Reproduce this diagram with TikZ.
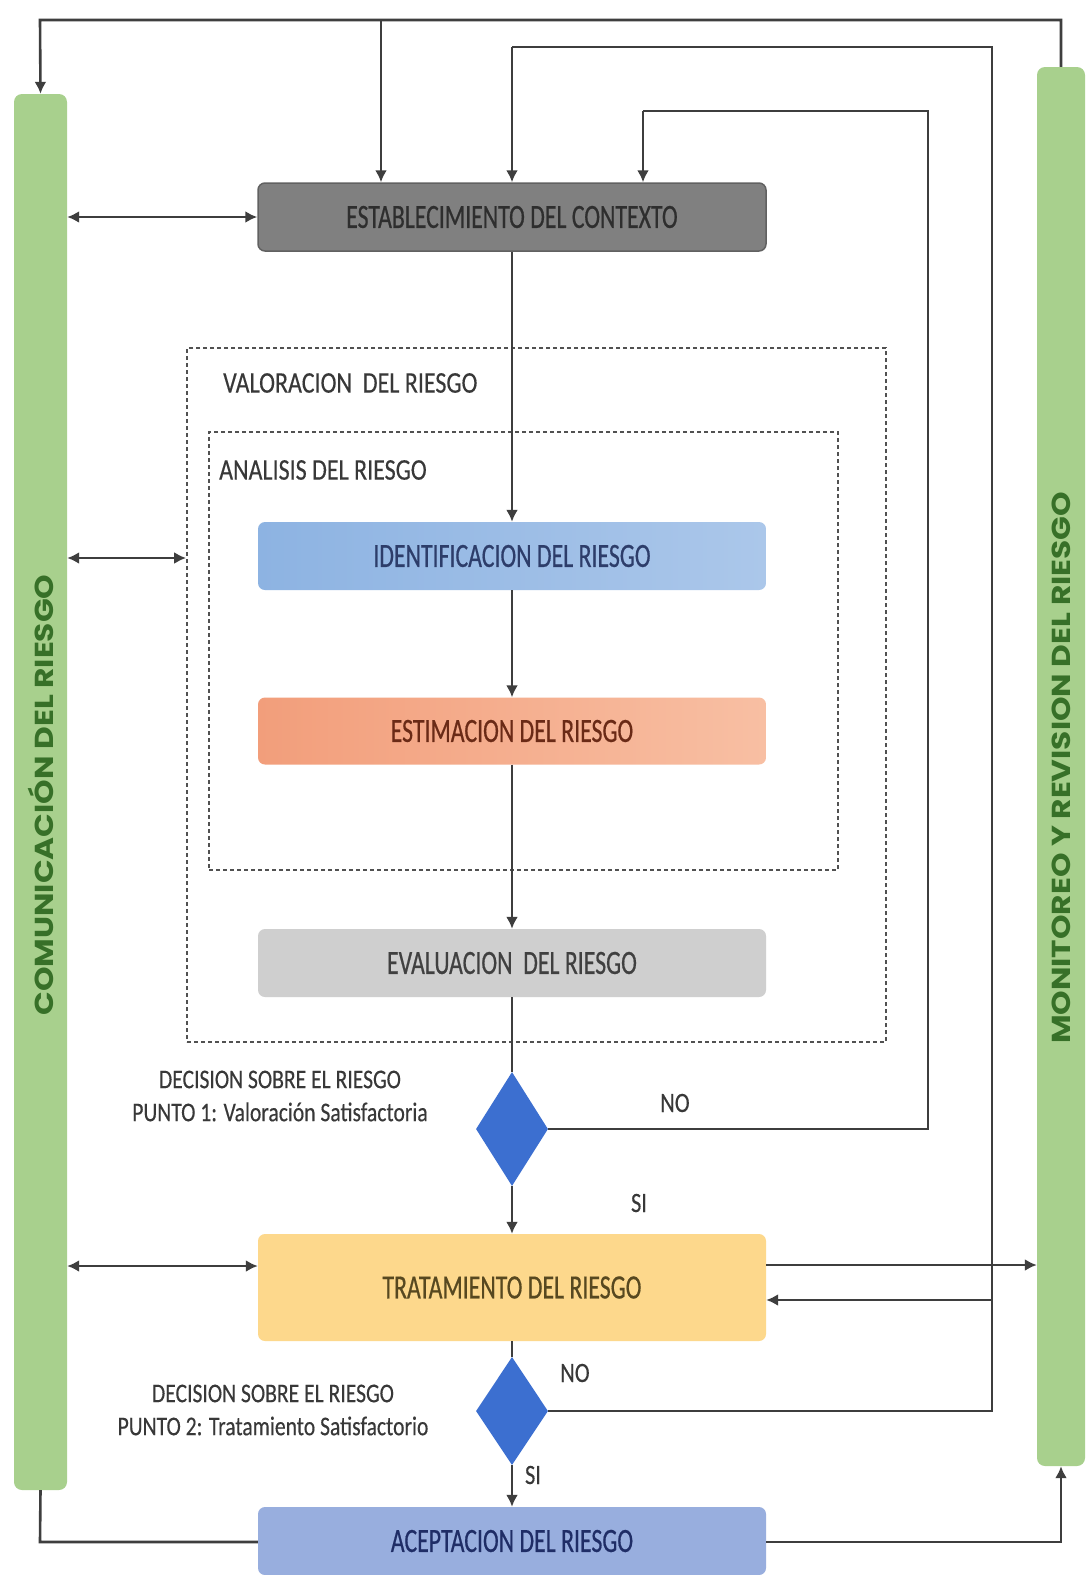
\documentclass[tikz,border=0pt]{standalone}
\usepackage{fontspec}
\usetikzlibrary{shapes.geometric,arrows.meta,calc}
\newfontfamily\cf[FakeStretch=0.70,FakeBold=0.5]{Carlito}
\newfontfamily\cfl[FakeStretch=0.80,FakeBold=0.3]{Carlito}
\newfontfamily\barf[FakeStretch=1.2]{Poppins}
\definecolor{ln}{HTML}{3E3E3E}
\definecolor{barg}{HTML}{A8D08D}
\definecolor{bart}{HTML}{377028}
\definecolor{dia}{HTML}{3C6FD0}
\definecolor{identA}{HTML}{8DB3E2}
\definecolor{identB}{HTML}{ABC7EA}
\definecolor{identT}{HTML}{2D3D6A}
\definecolor{estimA}{HTML}{F29E7B}
\definecolor{estimB}{HTML}{F8BFA3}
\definecolor{estimT}{HTML}{6A2A16}
\definecolor{evalF}{HTML}{CFCFCF}
\definecolor{tratF}{HTML}{FDD88C}
\definecolor{tratT}{HTML}{574820}
\definecolor{aceF}{HTML}{98AEDE}
\definecolor{aceT}{HTML}{1F2D66}
\tikzset{
  box/.style={rectangle, rounded corners=7pt, minimum width=508pt, inner sep=0pt, font=\cf\fontsize{34}{36}\selectfont},
  bar/.style={rectangle, rounded corners=8pt, fill=barg, draw=none, inner sep=0pt},
  dec/.style={diamond, fill=dia, draw=none, inner sep=0pt, minimum width=72pt},
  conn/.style={draw=ln, line width=2.6pt},
  arr/.style={conn, -{Latex[length=12pt,width=12pt]}},
  darr/.style={conn, {Latex[length=12pt,width=12pt]}-{Latex[length=12pt,width=12pt]}},
  dbox/.style={draw=ln!90, line width=1.8pt, dash pattern=on 4pt off 3pt},
  lbl/.style={inner sep=0pt, text=black!78, font=\cfl\fontsize{30}{32}\selectfont},
  dlbl/.style={inner sep=0pt, text=black!78, align=center, font=\cfl\fontsize{27}{33}\selectfont}
}
\begin{document}
\begin{tikzpicture}[x=1pt,y=-1pt]
\useasboundingbox (0,0) rectangle (1086,1575);
\fill[white] (0,0) rectangle (1086,1575);

% side bars
\node[bar, minimum width=53pt, minimum height=1396pt] (lbar) at (40.5,792) {};
\node[bar, minimum width=48pt, minimum height=1399pt] (rbar) at (1061,766.5) {};
\node[rotate=90, text=bart, font=\barf\bfseries\fontsize{26}{28}\selectfont, inner sep=0pt] (ltext) at (40.5,795) {COMUNICACIÓN DEL RIESGO};
\node[rotate=90, text=bart, font=\barf\bfseries\fontsize{26}{28}\selectfont, inner sep=0pt] (rtext) at (1061,768) {MONITOREO Y REVISION DEL RIESGO};

% dashed groups
\node[dbox, rectangle, minimum width=699pt, minimum height=694pt, inner sep=0pt] (outer) at (536.5,695) {};
\node[dbox, rectangle, minimum width=629pt, minimum height=438pt, inner sep=0pt] (inner) at (523.5,651) {};
\node[lbl, anchor=west] (lval) at (223,383) {VALORACION\ \ DEL RIESGO};
\node[lbl, anchor=west] (lana) at (219,470) {ANALISIS DEL RIESGO};

% boxes
\node[box, minimum height=68pt, fill=black!50, draw=black!62, line width=1.5pt, text=black!82] (estab) at (512,217) {ESTABLECIMIENTO DEL CONTEXTO};
\node[box, minimum height=68pt, left color=identA, right color=identB, text=identT] (ident) at (512,556) {IDENTIFICACION DEL RIESGO};
\node[box, minimum height=67pt, left color=estimA, right color=estimB, text=estimT] (estim) at (512,731) {ESTIMACION DEL RIESGO};
\node[box, minimum height=68pt, fill=evalF, text=black!75] (evalu) at (512,963) {EVALUACION\ \ DEL RIESGO};
\node[box, minimum height=107pt, fill=tratF, text=tratT] (trat) at (512,1287.5) {TRATAMIENTO DEL RIESGO};
\node[box, minimum height=68pt, fill=aceF, text=aceT] (acept) at (512,1541) {ACEPTACION DEL RIESGO};

% decisions
\node[dec, minimum height=114pt] (d1) at (512,1129) {};
\node[dec, minimum height=108pt] (d2) at (512,1411) {};

\node[dlbl] (t1) at (280,1096) {DECISION SOBRE EL RIESGO\\PUNTO 1: Valoración Satisfactoria};
\node[dlbl] (t2) at (273,1410) {DECISION SOBRE EL RIESGO\\PUNTO 2: Tratamiento Satisfactorio};
\node[lbl, font=\cfl\fontsize{28}{30}\selectfont] (no1) at (675,1103) {NO};
\node[lbl, font=\cfl\fontsize{28}{30}\selectfont] (si1) at (639,1203) {SI};
\node[lbl, font=\cfl\fontsize{28}{30}\selectfont] (no2) at (575,1373) {NO};
\node[lbl, font=\cfl\fontsize{28}{30}\selectfont] (si2) at (533,1475) {SI};

% coordinates for loops
\coordinate (topL) at (40,20);
\coordinate (topR) at (1061,20);
\coordinate (topM) at (381,20);
\coordinate (l2L) at (512,47);
\coordinate (l2R) at (992,47);
\coordinate (l3L) at (643,111);
\coordinate (l3R) at (928,111);
\coordinate (trin) at (992,1300);
\coordinate (botL) at (40,1542);
\coordinate (botR) at (1061,1542);

% top loop
\draw[arr] (rbar.north) -- (topR) -- (topL) -- (lbar.north);
\draw[arr] (topM) -- (topM |- estab.north);
% loop 2 (decision 2 NO)
\draw[conn] (d2.east) -- (d2.east -| l2R) -- (l2R) -- (l2L);
\draw[arr] (l2L) -- (estab.north);
\draw[arr] (trin) -- (trin -| trat.east);
% loop 3 (decision 1 NO)
\draw[conn] (d1.east) -- (d1.east -| l3R) -- (l3R) -- (l3L);
\draw[arr] (l3L) -- (l3L |- estab.north);

% main flow
\draw[arr] (estab.south) -- (ident.north);
\draw[arr] (ident.south) -- (estim.north);
\draw[arr] (estim.south) -- (evalu.north);
\draw[conn] (evalu.south) -- (d1.north);
\draw[arr] (d1.south) -- (trat.north);
\draw[conn] (trat.south) -- (d2.north);
\draw[arr] (d2.south) -- (acept.north);

% communication arrows
\draw[darr] (lbar.east |- estab.west) -- (estab.west);
\draw[darr] (lbar.east |- 0,558) -- (outer.west |- 0,558);
\draw[darr] (lbar.east |- 0,1266) -- (trat.west |- 0,1266);
\draw[arr] (trat.east |- 0,1265) -- (rbar.west |- 0,1265);

% bottom connections
\draw[arr] (acept.east |- botR) -- (botR) -- (rbar.south);
\draw[conn] (lbar.south) -- (botL) -- (botL -| acept.west);
\end{tikzpicture}
\end{document}
